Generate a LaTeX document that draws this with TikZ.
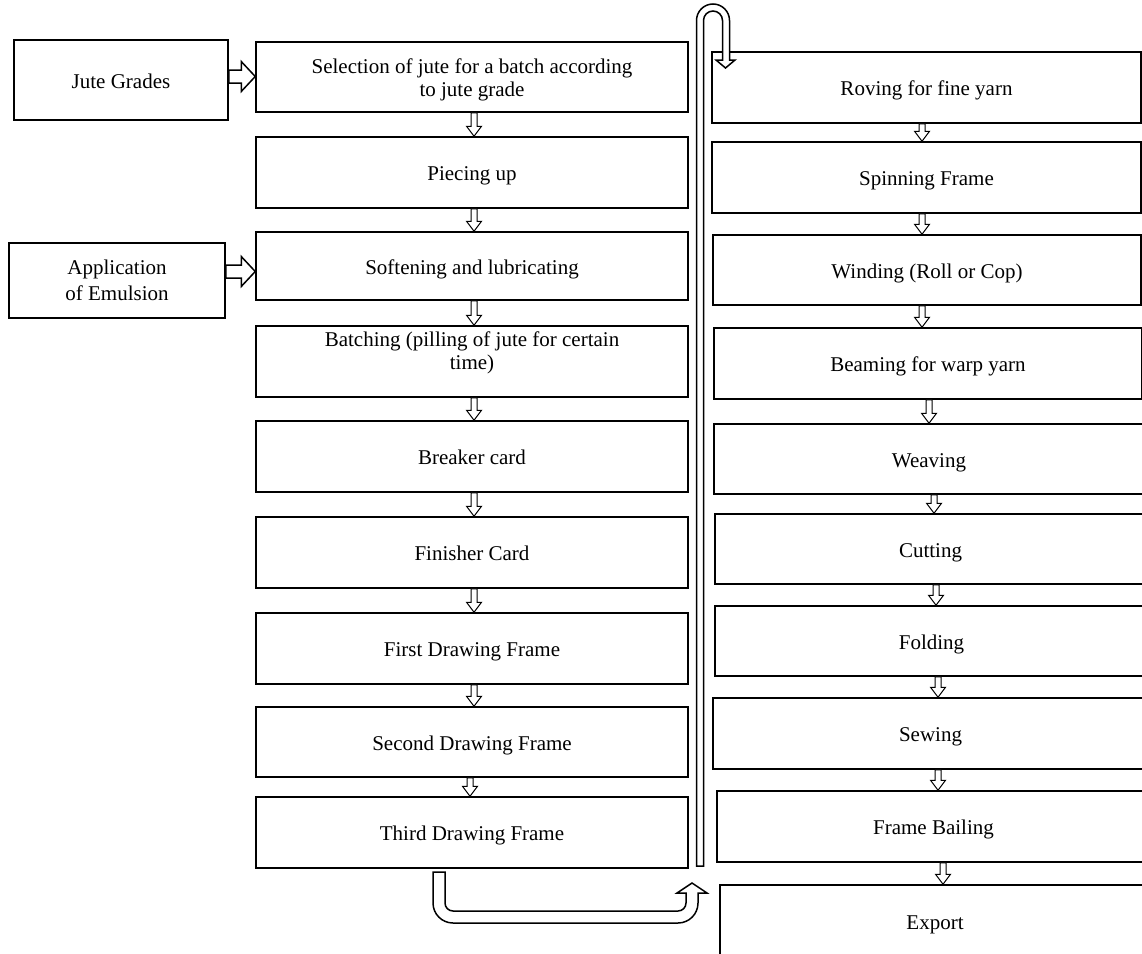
\documentclass[tikz,border=0pt]{standalone}
\usepackage{fontspec}
\setmainfont{Liberation Serif}
\usetikzlibrary{calc}
\newcommand\fs{\fontsize{21}{26.5}\selectfont}
\tikzset{
  box/.style={draw, line width=1.5pt, fill=white, inner sep=2pt, align=center, font=\fs},
  one/.style={text height=20.5pt, text depth=4.5pt},
  multi/.style={},
  blk/.style={draw, line width=1.5pt, fill=white, line join=miter},
  sblk/.style={draw, line width=1pt, fill=white, line join=miter},
}
\newcommand\mkbox[7][one]{%
  \node[box, #1, minimum width={(#5-#3)*1pt}, minimum height={(#6-#4)*1pt}] (#2) at ({(#3+#5)/2},{(#4+#6)/2}) {#7};}
\newcommand\twol[3]{\raisebox{#1}[\height][\depth]{\fontsize{21}{23}\selectfont\begin{tabular}{@{}c@{}}#2\\#3\end{tabular}}}
\newcommand\hdn[3]{%
  \draw[sblk] let \p1=(#1.south), \p2=(#2.north), \p3=(#3,0) in
   ({\x3-3pt},\y1) -- ({\x3+3pt},\y1) -- ({\x3+3pt},{\y2+10pt}) -- ({\x3+7.5pt},{\y2+10pt})
   -- (\x3,\y2) -- ({\x3-7.5pt},{\y2+10pt}) -- ({\x3-3pt},{\y2+10pt}) -- cycle;}
\newcommand\hrt[3]{%
  \draw[blk] let \p1=(#1.east), \p2=(#2.west), \p3=(0,#3) in
   (\x1,{\y3+6.5pt}) -- ({\x2-14pt},{\y3+6.5pt}) -- ({\x2-14pt},{\y3+15pt}) -- (\x2,\y3)
   -- ({\x2-14pt},{\y3-15pt}) -- ({\x2-14pt},{\y3-6.5pt}) -- (\x1,{\y3-6.5pt}) -- cycle;}
\begin{document}
\begin{tikzpicture}[x=1pt,y=-1pt]
\useasboundingbox (0,0) rectangle (1142,953);
\clip (0,0) rectangle (1142,953);
\fill[white] (0,0) rectangle (1142,953);
% left inputs
\mkbox{jg}{14}{40}{228}{120}{Jute Grades}
\mkbox[multi]{em}{9}{243}{225}{318}{Application\\of Emulsion}
% left column
\mkbox[multi]{sel}{256}{42}{688}{112}{\twol{-3pt}{Selection of jute for a batch according}{to jute grade}}
\mkbox{piec}{256}{137}{688}{208}{Piecing up}
\mkbox{soft}{256}{232}{688}{300}{Softening and lubricating}
\mkbox[multi]{batch}{256}{326}{688}{397}{\twol{8pt}{Batching (pilling of jute for certain}{time)}}
\mkbox{brk}{256}{421}{688}{492}{Breaker card}
\mkbox{fin}{256}{517}{688}{588}{Finisher Card}
\mkbox{first}{256}{613}{688}{684}{First Drawing Frame}
\mkbox{second}{256}{707}{688}{777}{Second Drawing Frame}
\mkbox{third}{256}{797}{688}{868}{Third Drawing Frame}
% right column
\mkbox{rov}{712}{52}{1141}{123}{Roving for fine yarn}
\mkbox{spin}{712}{142}{1141}{213}{Spinning Frame}
\mkbox{wind}{713}{235}{1141}{305}{Winding (Roll or Cop)}
\mkbox{beam}{714}{328}{1142}{399}{Beaming for warp yarn}
\mkbox{weav}{714}{424}{1144}{494}{Weaving}
\mkbox{cut}{715}{514}{1146}{584}{Cutting}
\mkbox{fold}{715}{606}{1148}{676}{Folding}
\mkbox{sew}{713}{698}{1148}{769}{Sewing}
\mkbox{fb}{717}{791}{1150}{862}{Frame Bailing}
\mkbox{exp}{720}{885}{1150}{958}{Export}
% side arrows
\hrt{jg}{sel}{76.5}
\hrt{em}{soft}{271.5}
% small down arrows
\hdn{sel}{piec}{474}
\hdn{piec}{soft}{474}
\hdn{soft}{batch}{474}
\hdn{batch}{brk}{474}
\hdn{brk}{fin}{474}
\hdn{fin}{first}{474}
\hdn{first}{second}{474}
\hdn{second}{third}{470}
\hdn{rov}{spin}{922}
\hdn{spin}{wind}{922}
\hdn{wind}{beam}{922}
\hdn{beam}{weav}{929}
\hdn{weav}{cut}{934}
\hdn{cut}{fold}{936}
\hdn{fold}{sew}{938}
\hdn{sew}{fb}{938}
\hdn{fb}{exp}{943}
% tall tube with U-turn at top
\draw[blk] (696.5,866) -- (696.5,20.5) arc[start angle=180,end angle=360,radius=16.5]
  -- (729.5,60) -- (735,60) -- (725.5,68) -- (716,60) -- (722.5,60) -- (722.5,20.5)
  arc[start angle=0,end angle=-180,radius=9.5] -- (703.5,866) -- cycle;
% bottom U arrow
\draw[blk] (433,872) -- (433,903) arc[start angle=180,end angle=90,radius=20]
  -- (678,923) arc[start angle=90,end angle=0,radius=20] -- (698,893) -- (707,893)
  -- (692,883) -- (677,893) -- (686,893) -- (686,903) arc[start angle=0,end angle=90,radius=8]
  -- (453,911) arc[start angle=90,end angle=180,radius=8] -- (445,872) -- cycle;
\end{tikzpicture}
\end{document}
